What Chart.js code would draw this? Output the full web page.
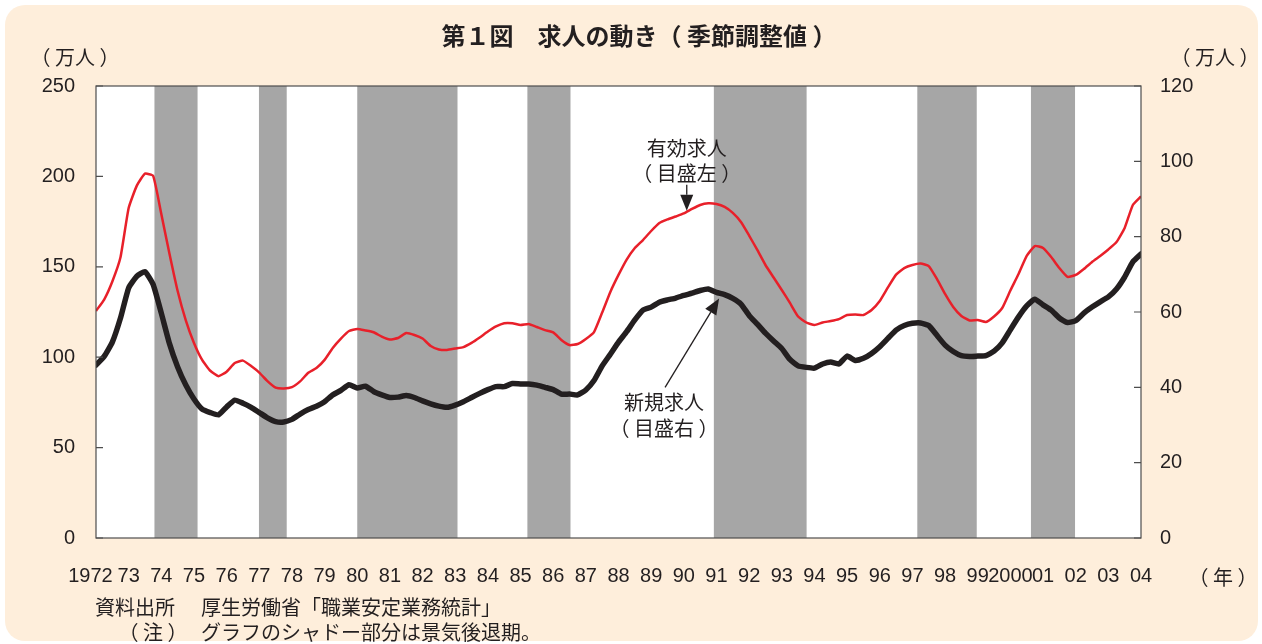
<!DOCTYPE html>
<html>
<head>
<meta charset="utf-8">
<script src="https://cdn.jsdelivr.net/npm/chart.js@4.4.1/dist/chart.umd.min.js"></script>
<style>
  html, body { margin: 0; padding: 0; background: #fff; }
  #wrap { width: 1262px; height: 644px; }
</style>
</head>
<body>
<div id="wrap"><canvas id="chart" width="1262" height="644"></canvas></div>
<script>
// x axis labels, one per year from 1972 to 2004
const yearLabels = ['1972  ', '73', '74', '75', '76', '77', '78', '79', '80', '81', '82', '83', '84', '85', '86', '87',
  '88', '89', '90', '91', '92', '93', '94', '95', '96', '97', '98', '99', '2000', '01', '02', '03', '04'];
const firstYear = 1972;
const step = 0.25; // quarterly readings

// 有効求人 (left axis, 万人)
const yukoKyujin = [
  125.6, 131.9, 141.9, 155.3, 182.5, 194.9, 201.5, 200.3, 179.2, 157.2,
  136.6, 120.4, 107.9, 98.5, 92.5, 89.5, 92.0, 96.8, 98.1, 95.1,
  91.5, 86.8, 83.2, 82.7, 83.4, 86.6, 91.4, 94.0, 98.5, 105.1,
  110.3, 114.5, 115.6, 114.8, 113.8, 111.4, 109.8, 110.6, 113.4, 112.3,
  110.3, 106.2, 104.3, 104.0, 104.8, 105.6, 107.9, 110.9, 114.2, 117.0,
  118.8, 118.8, 117.8, 118.4, 116.7, 115.0, 113.7, 109.5, 106.7, 107.3,
  110.1, 113.9, 124.7, 136.1, 145.5, 154.0, 160.4, 164.8, 169.8, 174.2,
  176.2, 177.8, 179.5, 182.0, 184.2, 185.1, 184.7, 183.1, 179.8, 174.8,
  167.3, 159.3, 151.0, 144.1, 137.2, 130.0, 122.5, 119.2, 117.8, 119.2,
  120.0, 121.1, 123.3, 123.6, 123.3, 126.1, 131.1, 138.6, 145.7, 149.3,
  151.0, 151.8, 150.4, 143.3, 135.0, 127.8, 122.8, 120.3, 120.6, 119.5,
  122.5, 127.2, 136.9, 146.0, 156.0, 161.5, 160.4, 155.4, 149.3, 144.4,
  145.5, 148.8, 152.7, 156.0, 159.6, 163.7, 171.5, 184.2, 189.0
];

// 新規求人 (right axis, 万人)
const shinkiKyujin = [
  45.9, 48.2, 52.0, 58.4, 66.4, 69.5, 70.7, 67.3, 59.7, 51.6,
  45.4, 40.6, 36.9, 34.2, 33.3, 32.7, 34.8, 36.6, 35.8, 34.7,
  33.3, 31.9, 30.9, 30.8, 31.5, 32.9, 34.1, 35.0, 36.2, 38.0,
  39.2, 40.7, 39.8, 40.3, 38.9, 38.0, 37.3, 37.4, 37.8, 37.3,
  36.4, 35.6, 35.0, 34.7, 35.3, 36.2, 37.3, 38.4, 39.4, 40.2,
  40.2, 41.0, 40.9, 40.9, 40.6, 40.0, 39.4, 38.2, 38.2, 38.0,
  39.3, 41.8, 45.7, 48.8, 52.0, 54.8, 57.9, 60.5, 61.3, 62.6,
  63.2, 63.7, 64.4, 65.0, 65.7, 66.1, 65.2, 64.6, 63.6, 62.1,
  59.1, 56.8, 54.4, 52.3, 50.3, 47.4, 45.7, 45.3, 45.1, 46.2,
  46.7, 46.2, 48.3, 47.1, 47.7, 49.0, 50.8, 53.0, 55.2, 56.4,
  57.0, 57.1, 56.4, 53.8, 51.2, 49.5, 48.4, 48.2, 48.3, 48.4,
  49.6, 51.8, 55.3, 58.7, 61.6, 63.4, 61.9, 60.5, 58.4, 57.2,
  57.7, 59.7, 61.3, 62.7, 64.0, 66.1, 69.3, 73.3, 75.4
];

// 景気後退期 (start, end as decimal years)
const recessions = [
  [1973.79, 1975.11], [1976.99, 1977.84], [1980.0, 1983.07], [1985.21, 1986.53],
  [1990.92, 1993.76], [1997.15, 1998.97], [2000.63, 2001.98]
];

const INK = '#231f20';
const SANS = '"Liberation Sans", "Noto Sans CJK JP", sans-serif';
const JP = '"Noto Sans CJK JP", "Liberation Sans", sans-serif';

function toPoints(arr) {
  return arr.map((v, i) => ({ x: firstYear + i * step, y: v }));
}

function text(ctx, str, x, y, font, align) {
  ctx.font = font;
  ctx.fillStyle = INK;
  ctx.textAlign = align || 'left';
  ctx.textBaseline = 'middle';
  ctx.fillText(str, x, y);
}

function arrow(ctx, x1, y1, x2, y2) {
  const ang = Math.atan2(y2 - y1, x2 - x1);
  const len = 16, half = 6.5;
  const bx = x2 - Math.cos(ang) * len, by = y2 - Math.sin(ang) * len;
  ctx.strokeStyle = INK;
  ctx.fillStyle = INK;
  ctx.lineWidth = 1.3;
  ctx.beginPath();
  ctx.moveTo(x1, y1);
  ctx.lineTo(bx, by);
  ctx.stroke();
  ctx.beginPath();
  ctx.moveTo(x2, y2);
  ctx.lineTo(bx + Math.sin(ang) * half, by - Math.cos(ang) * half);
  ctx.lineTo(bx - Math.sin(ang) * half, by + Math.cos(ang) * half);
  ctx.closePath();
  ctx.fill();
}

const backdrop = {
  id: 'backdrop',
  beforeDraw(chart) {
    const { ctx, chartArea: a, scales } = chart;
    ctx.save();
    ctx.fillStyle = '#fff';
    ctx.fillRect(0, 0, chart.width, chart.height);
    ctx.fillStyle = '#feeedb';
    ctx.beginPath();
    ctx.roundRect(5, 5, 1253, 636, 20);
    ctx.fill();
    ctx.fillStyle = '#fff';
    ctx.fillRect(a.left, a.top, a.right - a.left, a.bottom - a.top);
    ctx.fillStyle = '#a6a6a6';
    recessions.forEach(([s, e]) => {
      const x1 = scales.x.getPixelForValue(s);
      const x2 = scales.x.getPixelForValue(e);
      ctx.fillRect(x1, a.top, x2 - x1, a.bottom - a.top);
    });
    ctx.restore();
  },
  afterDraw(chart) {
    const { ctx, chartArea: a, scales } = chart;
    ctx.save();
    // frame
    ctx.strokeStyle = '#4d4d4d';
    ctx.lineWidth = 1.2;
    ctx.strokeRect(a.left, a.top, a.right - a.left, a.bottom - a.top);
    // inner ticks
    ctx.beginPath();
    scales.yL.ticks.forEach(t => {
      const y = scales.yL.getPixelForValue(t.value);
      ctx.moveTo(a.left, y); ctx.lineTo(a.left + 7, y);
    });
    scales.yR.ticks.forEach(t => {
      const y = scales.yR.getPixelForValue(t.value);
      ctx.moveTo(a.right, y); ctx.lineTo(a.right - 7, y);
    });
    ctx.stroke();

    // titles and units
    text(ctx, '第１図　求人の動き（ 季節調整値 ）', 639, 36, 'bold 24px ' + JP, 'center');
    text(ctx, '（ 万人 ）', 75, 57, '20px ' + JP, 'center');
    text(ctx, '（ 万人 ）', 1215, 57, '20px ' + JP, 'center');
    text(ctx, '（ 年 ）', 1223, 577, '20px ' + JP, 'center');
    text(ctx, '資料出所', 95, 607, '20px ' + JP, 'left');
    text(ctx, '厚生労働省「職業安定業務統計」', 201, 607, '20px ' + JP, 'left');
    text(ctx, '（ 注 ）', 153, 632, '20px ' + JP, 'center');
    text(ctx, 'グラフのシャドー部分は景気後退期。', 201, 632, '20px ' + JP, 'left');

    // series annotations
    const rx = scales.x.getPixelForValue(1990.09), ry = scales.yL.getPixelForValue(181);
    text(ctx, '有効求人', rx, ry - 62, '20px ' + JP, 'center');
    text(ctx, '（ 目盛左 ）', rx, ry - 37, '20px ' + JP, 'center');
    arrow(ctx, rx, ry - 26, rx, ry);
    const bx = scales.x.getPixelForValue(1991.08), by = scales.yR.getPixelForValue(63.6);
    text(ctx, '新規求人', bx - 55, by + 104, '20px ' + JP, 'center');
    text(ctx, '（ 目盛右 ）', bx - 55, by + 130, '20px ' + JP, 'center');
    arrow(ctx, bx - 54, by + 89, bx, by);
    ctx.restore();
  }
};

const tickFont = { family: SANS, size: 20 };

new Chart(document.getElementById('chart').getContext('2d'), {
  type: 'line',
  data: {
    datasets: [
      {
        label: '有効求人',
        data: toPoints(yukoKyujin),
        yAxisID: 'yL',
        borderColor: '#e8202a',
        borderWidth: 2.5,
        pointRadius: 0,
        tension: 0.15
      },
      {
        label: '新規求人',
        data: toPoints(shinkiKyujin),
        yAxisID: 'yR',
        borderColor: INK,
        borderWidth: 5.5,
        borderJoinStyle: 'round',
        borderCapStyle: 'round',
        pointRadius: 0,
        tension: 0.15
      }
    ]
  },
  options: {
    responsive: false,
    animation: false,
    layout: { padding: { top: 86, left: 0, right: 0, bottom: 0 } },
    plugins: { legend: { display: false }, tooltip: { enabled: false } },
    scales: {
      x: {
        type: 'linear',
        min: 1972,
        max: 2004,
        grid: { display: false, drawTicks: false },
        border: { display: false },
        ticks: {
          stepSize: 1,
          autoSkip: false,
          maxRotation: 0,
          padding: 26,
          color: INK,
          font: tickFont,
          callback: v => yearLabels[Math.round(v) - firstYear]
        },
        afterFit(s) { s.height = 106; }
      },
      yL: {
        position: 'left',
        min: 0,
        max: 250,
        grid: { display: false, drawTicks: false },
        border: { display: false },
        ticks: { stepSize: 50, padding: 21, color: INK, font: tickFont },
        afterFit(s) { s.width = 96; }
      },
      yR: {
        position: 'right',
        min: 0,
        max: 120,
        grid: { display: false, drawTicks: false },
        border: { display: false },
        ticks: { stepSize: 20, padding: 19, color: INK, font: tickFont },
        afterFit(s) { s.width = 121; }
      }
    }
  },
  plugins: [backdrop]
});
</script>
</body>
</html>
